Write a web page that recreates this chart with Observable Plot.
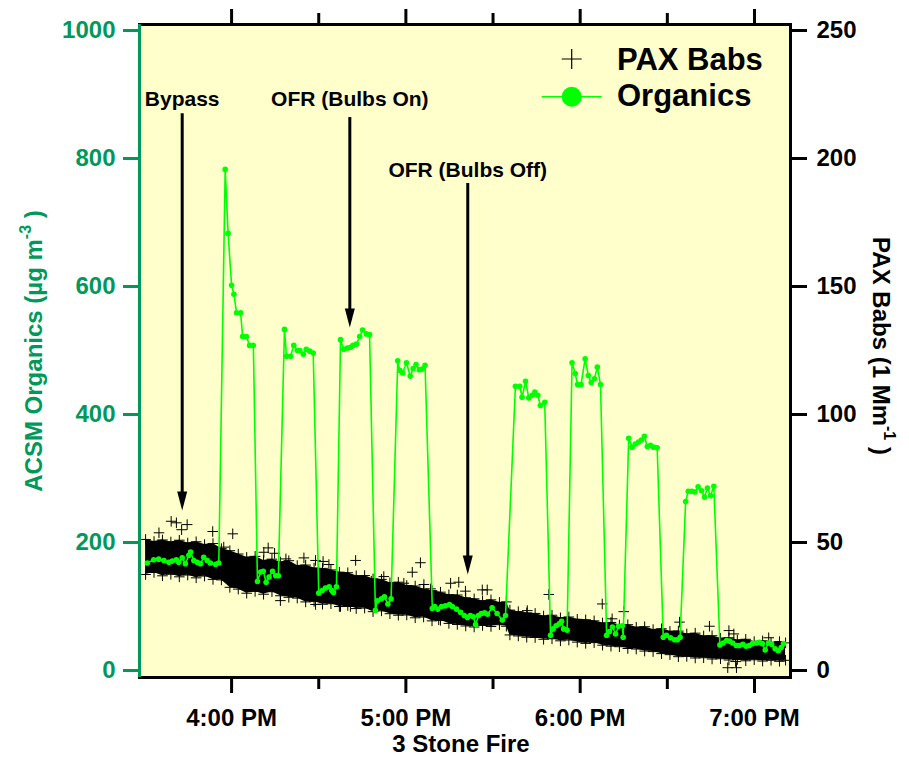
<!DOCTYPE html>
<html>
<head>
<meta charset="utf-8">
<script src="https://cdn.jsdelivr.net/npm/d3@7"></script>
<script src="https://cdn.jsdelivr.net/npm/@observablehq/plot@0.6"></script>
<style>
  body { margin: 0; background: #fff; }
  #chart { width: 909px; height: 757px; }
</style>
</head>
<body>
<div id="chart"></div>
<script>
// ---------- DATA (minutes after 3:00 PM) ----------
const orgMinutes = [
  31.0,33.2,34.9,36.7,38.4,39.6,41.0,41.8,43.0,44.1,45.3,45.9,47.0,48.2,49.3,50.4,51.6,52.7,54.5,55.6,
  57.8,58.8,60.0,60.8,61.7,63.1,63.8,65.1,66.2,67.5,
  68.9,70.0,70.9,71.9,72.9,74.1,75.2,76.1,
  78.2,78.9,80.3,81.4,82.6,83.5,84.7,85.7,86.9,88.1,
  90.0,91.2,92.3,93.6,94.5,95.1,96.1,
  97.5,98.6,99.8,100.9,101.8,103.0,104.1,105.1,106.4,107.5,
  109.5,110.2,111.6,112.6,113.8,114.9,
  117.2,117.9,118.9,120.2,121.5,122.5,123.5,124.6,125.6,126.6,
  129.1,129.9,131.0,132.3,133.6,135.0,136.0,137.4,138.8,140.1,141.2,142.2,143.2,144.0,145.0,146.0,147.1,148.1,149.7,151.4,153.2,154.3,
  157.7,159.2,160.0,161.2,162.3,163.5,164.4,165.4,166.3,167.8,
  169.8,170.7,171.7,172.8,173.6,174.3,175.5,
  177.2,178.3,179.1,180.3,181.7,182.8,183.8,184.9,185.9,187.0,
  189.1,190.1,191.1,192.2,193.2,194.5,194.8,
  196.7,197.9,199.0,200.1,201.1,202.1,203.1,204.2,205.2,206.5,
  208.6,209.7,211.1,212.5,213.5,214.4,
  216.3,217.2,218.4,219.5,220.6,221.8,222.8,223.8,224.9,226.0,
  228.1,229.2,230.4,231.4,232.5,233.7,234.8,236.0,237.1,238.2,239.3,240.6,241.7,242.7,243.7,244.8,245.9,247.1,248.2,249.2,250.0
];
const orgValues = [
  168,173,174,172,169,171,173,169,176,167,180,185,172,169,167,177,172,168,166,168,
  783,683,602,588,559,559,522,522,508,508,
  139,154,155,138,146,155,148,148,
  533,491,491,508,500,500,494,502,499,496,
  121,125,129,131,125,122,131,
  517,502,504,505,508,510,522,532,526,525,
  94,109,112,115,104,112,
  484,469,465,481,460,472,478,470,471,477,
  97,100,96,100,101,103,100,96,91,86,83,86,84,72,86,89,90,88,98,89,79,86,
  444,444,427,452,426,430,435,430,414,419,
  55,65,70,73,77,65,63,
  481,464,447,447,487,461,450,456,474,447,
  55,61,68,57,69,70,52,
  363,349,354,357,360,366,350,352,349,348,
  52,55,51,48,48,52,
  264,280,280,279,287,281,271,285,273,288,
  40,43,47,46,43,39,39,41,38,39,42,43,44,42,32,43,41,34,31,36,42
];

// PAX Babs dense point cloud: upper and lower edges (Mm^-1)
const paxMinutes = [30.4,33.3,36.2,39.1,42.0,44.9,47.8,50.7,53.6,56.5,59.4,62.3,65.2,68.1,71.0,73.9,76.8,79.7,82.6,85.5,88.4,91.3,94.2,97.1,100.0,102.9,105.8,108.7,111.6,114.5,117.4,120.3,123.2,126.1,129.0,131.9,134.8,137.7,140.6,143.5,146.4,149.3,152.2,154.6,155.8,158.7,161.6,164.5,167.4,170.3,173.2,176.1,179.0,181.9,184.8,187.7,190.6,193.5,196.4,199.3,202.2,205.1,208.0,210.9,213.8,216.7,219.6,222.5,225.4,228.3,231.2,234.1,237.0,239.9,242.8,245.7,248.6,250.7];
const paxHigh = [51.2,50.4,51.0,50.2,50.9,49.8,50.3,49.2,49.6,47.6,46.8,45.5,44.2,44.6,43.0,43.5,42.4,42.9,41.0,41.2,40.0,39.9,39.3,38.4,38.2,37.0,37.1,35.8,35.6,34.3,34.5,33.2,33.0,31.8,31.2,30.6,29.6,29.5,28.4,28.0,27.2,27.6,26.6,26.8,23.6,23.0,22.5,22.3,21.3,21.6,20.6,20.9,20.0,19.8,19.4,18.6,18.8,17.8,17.9,16.9,17.1,16.0,16.3,15.3,15.4,14.3,14.6,13.5,13.6,12.6,12.8,11.9,12.2,11.3,11.6,10.9,11.3,10.8];
const paxLow  = [37.5,38.3,37.0,37.6,36.6,37.3,36.2,36.9,35.6,35.4,32.5,31.8,30.2,30.9,29.8,30.8,29.2,28.6,28.3,26.8,27.0,25.9,26.1,25.0,25.4,24.2,24.4,23.0,23.3,22.2,21.6,21.7,20.6,20.9,19.4,19.6,18.4,18.0,17.4,17.0,17.6,17.2,17.9,17.3,13.9,13.5,13.0,12.9,12.2,12.4,11.6,11.9,11.1,10.6,10.9,9.9,9.5,9.3,8.6,8.4,7.6,7.4,6.6,6.2,5.4,5.5,4.9,5.0,4.5,4.6,4.1,4.3,3.8,4.2,3.7,4.0,3.6,4.0];

// PAX Babs scattered points outside the cloud
const paxOutMinutes = [39.2,41.0,42.8,44.7,35.0,53.5,60.4,57.3,71.1,72.6,74.8,76.8,78.7,84.9,88.9,88.9,91.5,93.5,97.5,100.9,102.7,108.1,112.4,119.3,122.2,125.0,126.2,128.5,131.3,135.4,138.2,140.5,146.3,148.0,161.8,169.2,187.6,191.0,195.0,214.2,224.5,230.8,231.2,232.9,233.5,233.8,244.9];
const paxOutValues  = [58.3,57.7,55,57,53.8,54.3,53.4,48.2,46.2,47.9,45.8,27.3,43.6,44,43,25.8,42.6,41.4,25,25,43,34.9,36.7,34.1,38.4,42.1,33.6,31.9,19.8,34.1,34.5,31,31.5,31.5,23.4,29.7,26,20.2,23,18.9,17.3,1.1,15.6,14.3,3.5,1.1,12.8];

// Annotations
const annLabels   = ["Bypass", "OFR (Bulbs On)", "OFR (Bulbs Off)"];
const annMinutes  = [43.0, 100.7, 141.3];
const annTextY    = [893, 893, 781];
const annArrowTop = [870, 864, 761];
const annArrowTip = [250, 536, 150];

// Axes
const orgTicks = [0, 200, 400, 600, 800, 1000];
const paxTicks = [0, 50, 100, 150, 200, 250];
const hourTicks = [60, 120, 180, 240];          // minutes after 3:00 PM
const hourLabels = ["4:00 PM", "5:00 PM", "6:00 PM", "7:00 PM"];
const halfHourTicks = [90, 150, 210];
const xDomainMinutes = [28.3, 252.4];
const orgDomain = [-10.9, 1009.4];
const paxPerOrg = 0.25; // right axis = left axis * 0.25

// ---------- BUILD ----------
const T = m => new Date(Date.UTC(2000, 0, 1, 15, 0, 0) + Math.round(m * 60000));
const GREEN_AXIS = "#00995a";
const LIME = "#00ff00";
const FONT = "'Liberation Sans', Arial, Helvetica, sans-serif";

const org = orgMinutes.map((m, i) => ({t: T(m), v: orgValues[i]}));
const paxBand = paxMinutes.map((m, i) => ({t: T(m), hi: paxHigh[i] / paxPerOrg, lo: paxLow[i] / paxPerOrg}));
const paxEdges = paxBand.flatMap(d => [{t: d.t, v: d.hi}, {t: d.t, v: d.lo}]);
const paxOut = paxOutMinutes.map((m, i) => ({t: T(m), v: paxOutValues[i] / paxPerOrg}));
const ann = annLabels.map((s, i) => ({label: s, t: T(annMinutes[i]), ty: annTextY[i], top: annArrowTop[i], tip: annArrowTip[i]}));
const labelByTime = new Map(hourTicks.map((m, i) => [+T(m), hourLabels[i]]));

const arrowHead = {
  draw(ctx) { ctx.moveTo(0, 0); ctx.lineTo(-5, -19); ctx.lineTo(5, -19); ctx.closePath(); }
};

const plot = Plot.plot({
  width: 909,
  height: 757,
  marginLeft: 139,
  marginRight: 119,
  marginTop: 24,
  marginBottom: 80,
  style: {fontFamily: FONT, fontSize: "24px", fontWeight: "bold", background: "white", overflow: "visible"},
  x: {type: "utc", domain: xDomainMinutes.map(T)},
  y: {domain: orgDomain},
  marks: [
    Plot.frame({fill: "#ffffcc", stroke: "none"}),
    // PAX cloud
    Plot.areaY(paxBand, {x: "t", y1: "lo", y2: "hi", fill: "black", curve: "linear"}),
    Plot.dot(paxEdges, {x: "t", y: "v", symbol: "plus", r: 3.5, stroke: "black", strokeWidth: 1}),
    Plot.dot(paxOut, {x: "t", y: "v", symbol: "plus", r: 3.5, stroke: "black", strokeWidth: 1}),
    // Organics
    Plot.line(org, {x: "t", y: "v", stroke: LIME, strokeWidth: 1.6}),
    Plot.dot(org, {x: "t", y: "v", r: 2.8, fill: LIME, stroke: "none"}),
    // annotations
    Plot.ruleX(ann, {x: "t", y1: "top", y2: "tip", stroke: "black", strokeWidth: 3, insetBottom: 10}),
    Plot.dot(ann, {x: "t", y: "tip", symbol: arrowHead, fill: "black", stroke: "none", r: 5}),
    Plot.text(ann, {x: "t", y: "ty", text: "label", fontSize: 21, fontWeight: "bold", fill: "black", textAnchor: "middle"}),
    // axes
    Plot.axisY({anchor: "left", ticks: orgTicks, tickFormat: d => String(d), tickSize: 16, tickPadding: 8, strokeWidth: 3, color: GREEN_AXIS, fontSize: 24, fontWeight: "bold", label: null}),
    Plot.axisY({anchor: "right", ticks: paxTicks.map(v => v / paxPerOrg), tickFormat: d => String(d * paxPerOrg), tickSize: 16, tickPadding: 10, strokeWidth: 3, color: "black", fontSize: 24, fontWeight: "bold", label: null}),
    Plot.axisX({anchor: "bottom", ticks: hourTicks.map(T), tickFormat: d => labelByTime.get(+d), tickSize: 16, tickPadding: 15, strokeWidth: 3, color: "black", fontSize: 24, fontWeight: "bold", label: null}),
    Plot.axisX({anchor: "bottom", ticks: halfHourTicks.map(T), tickFormat: () => "", tickSize: 12, strokeWidth: 3, color: "black", label: null}),
    Plot.axisX({anchor: "top", ticks: hourTicks.map(T), tickFormat: () => "", tickSize: 16, strokeWidth: 3, color: "black", label: null}),
    Plot.axisX({anchor: "top", ticks: halfHourTicks.map(T), tickFormat: () => "", tickSize: 12, strokeWidth: 3, color: "black", label: null}),
    Plot.frame({stroke: "black", strokeWidth: 3}),
    Plot.ruleX([T(xDomainMinutes[0])], {stroke: GREEN_AXIS, strokeWidth: 3})
  ]
});

document.getElementById("chart").appendChild(plot);

// ---------- titles & legend ----------
const svg = d3.select(plot);
const g = svg.append("g").attr("font-family", FONT).attr("font-weight", "bold");

// left title
const lt = g.append("text")
  .attr("transform", "translate(42,351) rotate(-90)")
  .attr("text-anchor", "middle").attr("font-size", 24).attr("fill", GREEN_AXIS);
lt.append("tspan").text("ACSM Organics (µg m");
lt.append("tspan").attr("font-size", 16).attr("dy", -11).text("-3");
lt.append("tspan").attr("dy", 11).text(" )");

// right title
const rt = g.append("text")
  .attr("transform", "translate(873,346) rotate(90)")
  .attr("text-anchor", "middle").attr("font-size", 24).attr("fill", "black");
rt.append("tspan").text("PAX Babs (1 Mm");
rt.append("tspan").attr("font-size", 16).attr("dy", -11).text("-1");
rt.append("tspan").attr("dy", 11).text(" )");

// x title
g.append("text").attr("x", 461).attr("y", 752).attr("text-anchor", "middle")
  .attr("font-size", 24).attr("fill", "black").text("3 Stone Fire");

// legend
const lg = g.append("g").attr("text-anchor", "start");
lg.append("path").attr("d", "M561.7,59H581.7M571.7,49V69").attr("stroke", "black").attr("stroke-width", 1.2).attr("fill", "none");
lg.append("text").attr("x", 617).attr("y", 70).attr("text-anchor", "start").attr("font-size", 31).attr("fill", "black").text("PAX Babs");
lg.append("line").attr("x1", 541.7).attr("x2", 601.7).attr("y1", 96.7).attr("y2", 96.7).attr("stroke", LIME).attr("stroke-width", 1.6);
lg.append("circle").attr("cx", 571.7).attr("cy", 96.7).attr("r", 10).attr("fill", LIME);
lg.append("text").attr("x", 617).attr("y", 106).attr("text-anchor", "start").attr("font-size", 31).attr("fill", "black").text("Organics");
</script>
</body>
</html>
